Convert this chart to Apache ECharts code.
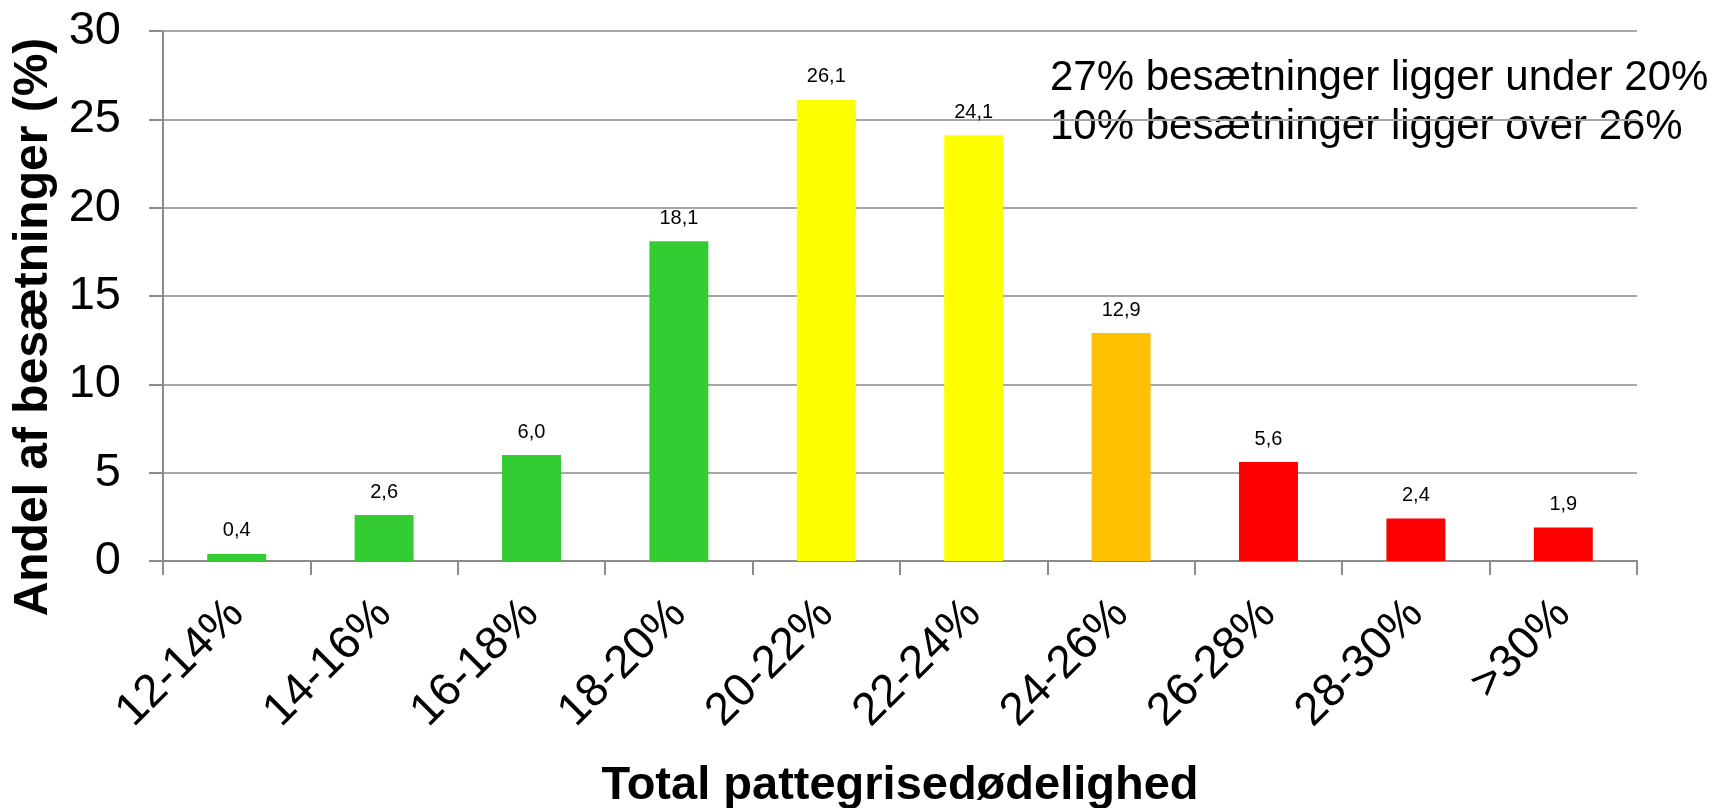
<!DOCTYPE html>
<html>
<head>
<meta charset="utf-8">
<script src="https://cdn.jsdelivr.net/npm/echarts@6/dist/echarts.min.js"></script>
<style>
  html, body { margin: 0; padding: 0; background: #fff; }
  #chart { width: 1723px; height: 808px; }
</style>
</head>
<body>
<div id="chart"></div>
<script>
// kategorier og værdier
var categories = ["12-14%", "14-16%", "16-18%", "18-20%", "20-22%", "22-24%", "24-26%", "26-28%", "28-30%", ">30%"];
var andel = [0.4, 2.6, 6.0, 18.1, 26.1, 24.1, 12.9, 5.6, 2.4, 1.9];
var noteLines = ["27% besætninger ligger under 20%", "10% besætninger ligger over 26%"];

// farve pr. søjle
var barColors = ["#33cc33", "#33cc33", "#33cc33", "#33cc33", "#ffff00", "#ffff00", "#ffc000", "#ff0000", "#ff0000", "#ff0000"];

var font = "'Liberation Sans', Arial, sans-serif";
var myChart = echarts.init(document.getElementById("chart"));

var option = {
  animation: false,
  textStyle: { fontFamily: font },
  grid: { left: 163, right: 86, top: 31, bottom: 247, outerBoundsMode: "none" },
  graphic: [
    {
      type: "text",
      left: 1050,
      top: 54,
      style: {
        text: noteLines.join("\n"),
        font: "42px " + font,
        lineHeight: 49,
        fill: "#000"
      }
    }
  ],
  xAxis: {
    type: "category",
    data: categories,
    name: "Total pattegrisedødelighed",
    nameLocation: "middle",
    nameGap: 202,
    nameTextStyle: { fontSize: 47, fontWeight: "bold", color: "#000", fontFamily: font },
    axisLine: { lineStyle: { color: "#8c8c8c", width: 2 } },
    axisTick: { show: true, alignWithLabel: false, length: 14, lineStyle: { color: "#8c8c8c", width: 2 } },
    axisLabel: { rotate: 45, fontSize: 46, color: "#000", margin: 46, padding: [28, 0, 0, 0], interval: 0 }
  },
  yAxis: {
    type: "value",
    min: 0,
    max: 30,
    interval: 5,
    name: "Andel af besætninger (%)",
    nameLocation: "middle",
    nameGap: 103,
    nameRotate: 90,
    nameTextStyle: { fontSize: 48, fontWeight: "bold", color: "#000", fontFamily: font, padding: [0, 62, 0, 0] },
    axisLine: { show: true, lineStyle: { color: "#8c8c8c", width: 2 } },
    axisTick: { show: true, length: 14, lineStyle: { color: "#8c8c8c", width: 2 } },
    axisLabel: { fontSize: 47, color: "#000", margin: 42 },
    splitLine: { lineStyle: { color: "#a6a6a6", width: 2 } }
  },
  series: [
    {
      name: "Andel",
      type: "bar",
      data: andel,
      barCategoryGap: "60%",
      itemStyle: {
        color: function (p) { return barColors[p.dataIndex]; }
      },
      label: {
        show: true,
        position: "top",
        distance: 13,
        fontSize: 20,
        color: "#000",
        formatter: function (p) { return p.value.toFixed(1).replace(".", ","); }
      }
    }
  ]
};

myChart.setOption(option);
</script>
</body>
</html>
